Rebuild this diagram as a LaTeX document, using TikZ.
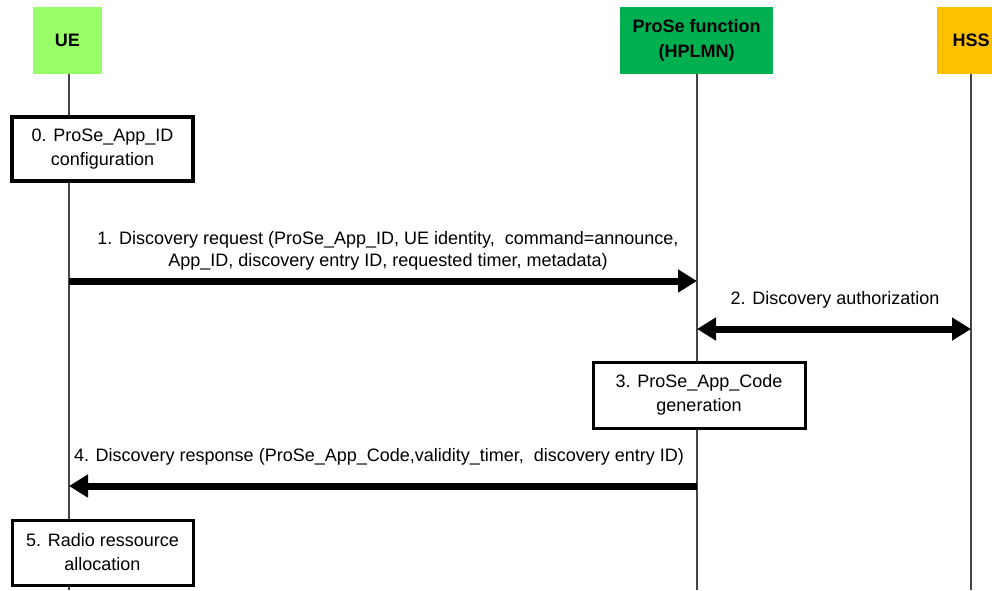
\documentclass[tikz,border=0pt]{standalone}
\usepackage{fontspec}
\setmainfont{Liberation Sans}
\usetikzlibrary{arrows.meta}
\definecolor{uegreen}{HTML}{99FF66}
\definecolor{prosegreen}{HTML}{00B050}
\definecolor{hssorange}{HTML}{FFC000}
\definecolor{lifegray}{HTML}{444444}
\begin{document}
\begin{tikzpicture}[x=1pt,y=-1pt,
  every node/.style={font=\fontsize{18}{24}\selectfont, inner sep=0pt, align=center},
  actor/.style={minimum height=67pt, font=\fontsize{18}{25}\selectfont\bfseries},
  stepbox/.style={draw=black, line width=3.4pt, fill=white},
  lifeline/.style={draw=lifegray, line width=1.3pt},
  msg/.style={line width=7pt, -{Triangle[length=19pt,width=22pt]}},
  msgboth/.style={line width=7pt, {Triangle[length=19pt,width=22pt]}-{Triangle[length=19pt,width=22pt]}},
  lbl/.style={text=black}]
\useasboundingbox (0,0) rectangle (992,590);
\begin{scope}
\clip (0,0) rectangle (992,590);
% actors
\node[actor, fill=uegreen, minimum width=69pt] (ue) at (67.5,40.5) {UE};
\node[actor, fill=prosegreen, minimum width=153pt] (pf) at (696.5,40.5) {ProSe function\\(HPLMN)};
\node[actor, fill=hssorange, minimum width=68pt, text width=68pt] (hss) at (971,40.5) {HSS};
% lifeline ends
\coordinate (ueE) at (69,590);
\coordinate (pfE) at (697,590);
\coordinate (hssE) at (971,590);
\draw[lifeline] (ue.south -| ueE) -- (ueE);
\draw[lifeline] (pf.south -| pfE) -- (pfE);
\draw[lifeline] (hss.south -| hssE) -- (hssE);
% step boxes
\node[stepbox, minimum width=181pt, minimum height=64pt] (s0) at (102.5,149) {0. ProSe\_App\_ID\\configuration};
\node[stepbox, minimum width=212pt, minimum height=66pt, line width=3pt] (s3) at (699,395) {3. ProSe\_App\_Code\\generation};
\node[stepbox, minimum width=181pt, minimum height=65pt, line width=3pt] (s5) at (102.5,552.5) {5. Radio ressource\\allocation};
% message endpoints
\coordinate (m1a) at (69,281);
\coordinate (m1b) at (697,281);
\coordinate (m2a) at (697,329);
\coordinate (m2b) at (971,329);
\coordinate (m4a) at (697,486);
\coordinate (m4b) at (69,486);
\draw[msg] (m1a) -- (m1b);
\draw[msgboth] (m2a) -- (m2b);
\draw[msg] (m4a) -- (m4b);
% labels
\node[lbl, font=\fontsize{18}{22}\selectfont] (l1) at (388,251) {1. Discovery request (ProSe\_App\_ID, UE identity,\ \ command=announce,\\App\_ID, discovery entry ID, requested timer, metadata)};
\node[lbl] (l2) at (835,300) {2. Discovery authorization};
\node[lbl] (l4) at (379,457) {4. Discovery response (ProSe\_App\_Code,validity\_timer,\ \ discovery entry ID)};
\end{scope}
\end{tikzpicture}
\end{document}
